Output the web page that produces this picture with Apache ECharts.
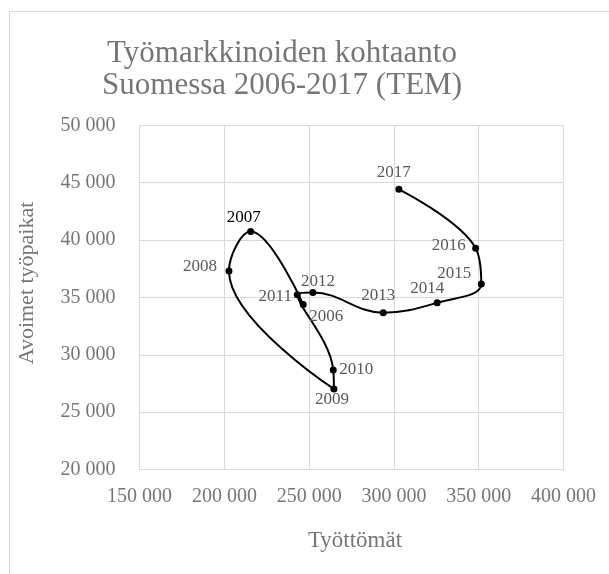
<!DOCTYPE html>
<html>
<head>
<meta charset="utf-8">
<script src="https://cdn.jsdelivr.net/npm/echarts@6/dist/echarts.min.js"></script>
<style>
html,body{margin:0;padding:0;background:#fff;}
#chart{width:609px;height:574px;}
</style>
</head>
<body>
<div id="chart"></div>
<script>
// ---- data ----
const years = ['2006','2007','2008','2009','2010','2011','2012','2013','2014','2015','2016','2017'];
const unemployed = [246500, 215500, 202700, 264600, 264200, 243000, 252200, 293700, 325500, 351500, 348200, 302900];
const vacancies  = [34390, 40750, 37300, 27020, 28680, 35240, 35430, 33670, 34540, 36170, 39290, 44430];
const titleLines = ['Työmarkkinoiden kohtaanto', 'Suomessa 2006-2017 (TEM)'];
const xAxisTitle = 'Työttömät';
const yAxisTitle = 'Avoimet työpaikat';

// ---- label styling (offsets from each point, px) ----
const labelOffsets = {
  '2006':[23,12], '2007':[-7,-14], '2008':[-29,-5], '2009':[-2,11],
  '2010':[23,0], '2011':[-22,2], '2012':[5,-11], '2013':[-5,-17],
  '2014':[-10,-14], '2015':[-27,-10], '2016':[-27,-3], '2017':[-5,-17]
};
const highlightYear = '2007';

const FONT = '"Liberation Serif", "DejaVu Serif", serif';
const GRAY = '#767676';
const fmt = v => String(v).replace(/\B(?=(\d{3})+(?!\d))/g, ' ');

const seriesData = years.map((y, i) => ({
  value: [unemployed[i], vacancies[i]],
  name: y,
  label: {
    offset: labelOffsets[y],
    color: y === highlightYear ? '#000' : '#5a5a5a'
  }
}));

const chart = echarts.init(document.getElementById('chart'), null, {renderer: 'canvas'});
chart.setOption({
  backgroundColor: '#fff',
  animation: false,
  title: {
    text: titleLines.join('\n'),
    left: 277,
    top: 33,
    textAlign: 'center',
    textStyle: {fontFamily: FONT, fontSize: 31, fontWeight: 'normal', color: GRAY, lineHeight: 32}
  },
  grid: {left: 139.6, right: 45.5, top: 125.4, bottom: 104.5},
  xAxis: {
    type: 'value', min: 150000, max: 400000, interval: 50000,
    axisLine: {show: true, lineStyle: {color: '#d9d9d9', width: 1}},
    axisTick: {show: false},
    splitLine: {show: true, lineStyle: {color: '#d9d9d9', width: 1}},
    axisLabel: {formatter: fmt, fontFamily: FONT, fontSize: 20, color: GRAY, margin: 17}
  },
  yAxis: {
    type: 'value', min: 20000, max: 50000, interval: 5000,
    axisLine: {show: true, lineStyle: {color: '#d9d9d9', width: 1}},
    axisTick: {show: false},
    splitLine: {show: true, lineStyle: {color: '#d9d9d9', width: 1}},
    axisLabel: {formatter: fmt, fontFamily: FONT, fontSize: 20, color: GRAY, margin: 24}
  },
  graphic: [
    {type: 'rect', silent: true, z: -1, shape: {x: 9.5, y: 11.5, width: 700, height: 700},
     style: {fill: null, stroke: '#d9d9d9', lineWidth: 1}},
    {type: 'text', x: 355, y: 541, style: {text: xAxisTitle, fontFamily: FONT, fontSize: 23, fill: GRAY,
      textAlign: 'center', textVerticalAlign: 'middle'}},
    {type: 'text', x: 27, y: 283, rotation: Math.PI / 2, style: {text: yAxisTitle, fontFamily: FONT, fontSize: 22, fill: GRAY,
      textAlign: 'center', textVerticalAlign: 'middle'}}
  ],
  series: [{
    type: 'line',
    data: seriesData,
    smooth: 0.4,
    symbol: 'circle',
    symbolSize: 7,
    itemStyle: {color: '#000'},
    lineStyle: {color: '#000', width: 2},
    label: {
      show: true,
      position: 'inside',
      formatter: p => p.name,
      fontFamily: FONT,
      fontSize: 17
    }
  }]
});
</script>
</body>
</html>
